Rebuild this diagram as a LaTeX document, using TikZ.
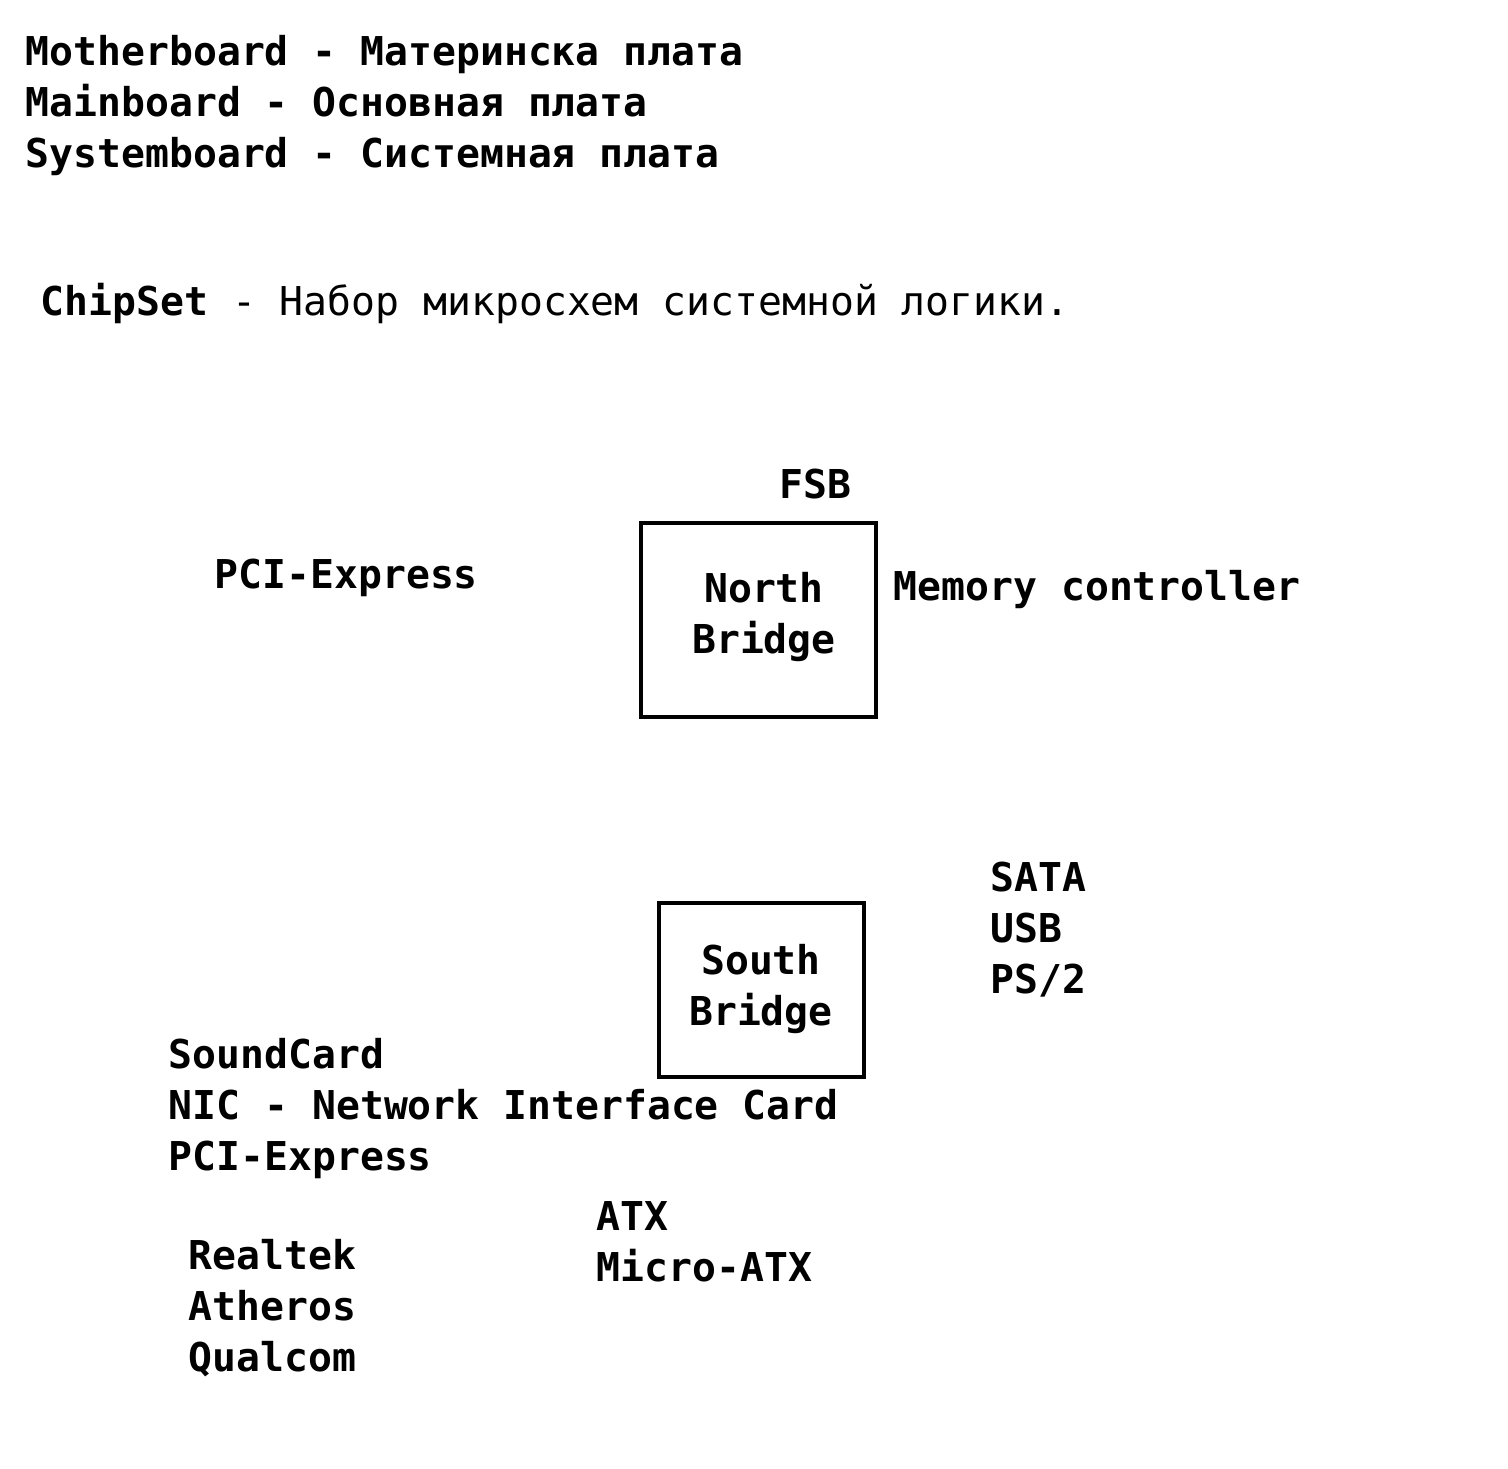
\documentclass[tikz,border=0pt]{standalone}
\usepackage{fontspec}
\setmainfont{DejaVu Sans Mono}
\usetikzlibrary{positioning}

\begin{document}
\begin{tikzpicture}[x=0.01cm, y=-0.01cm,
		every node/.style={font=\fontsize{11.3}{14.5}\selectfont\bfseries, inner sep=0pt},
		lbl/.style={anchor=base west, align=left},
		chip/.style={line width=1.3pt}]
		\useasboundingbox (0,0) rectangle (1508,1468);

		% names of the board
		\node [lbl] (board) at (25,167) {Motherboard - Материнска плата\\Mainboard - Основная плата\\Systemboard - Системная плата};
		\node [lbl] (chipset) at (40,315) {ChipSet\mdseries{} - Набор микросхем системной логики.};

		% bridges
		\draw [chip] (641,523) rectangle (876,717);
		\node [align=center] (nb) at (764,617) {North\\Bridge};
		\draw [chip] (659,903) rectangle (864,1077);
		\node [align=center] (sb) at (761,989) {South\\Bridge};

		% what they connect
		\node [lbl] (fsb) at (779,498) {FSB};
		\node [lbl] (pcie) at (214,588) {PCI-Express};
		\node [lbl] (mem) at (893,600) {Memory controller};
		\node [lbl] (ports) at (990,993) {SATA\\USB\\PS/2};
		\node [lbl] (cards) at (168,1170) {SoundCard\\NIC - Network Interface Card\\PCI-Express};
		\node [lbl] (form) at (596,1281) {ATX\\Micro-ATX};
		\node [lbl] (vendors) at (188,1371) {Realtek\\Atheros\\Qualcom};
	\end{tikzpicture}
\end{document}
